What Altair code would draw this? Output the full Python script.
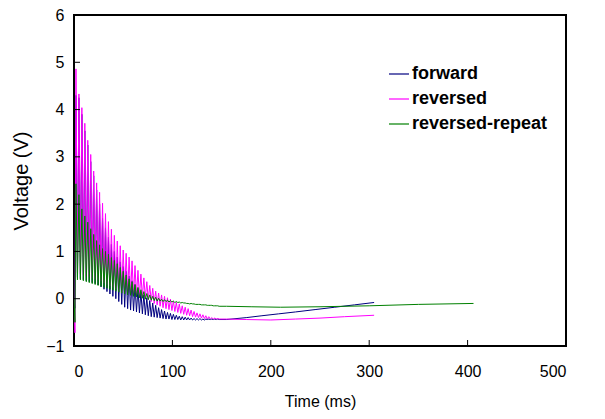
import altair as alt
import pandas as pd

# ---------------- data ----------------
SERIES = ["forward", "reversed", "reversed-repeat"]
COLORS = ["#000080", "#FF00FF", "#008000"]

# times (ms) of the oscillation peaks; troughs follow half a period later
SPIKE_T = [2, 5, 8, 11, 14, 17, 20, 23, 26, 29, 32, 35, 38, 41, 44, 47, 50, 53,
           56, 59, 62, 65, 68, 71, 74, 77, 80, 83, 86, 89, 92, 95, 98, 101, 104,
           107, 110, 113, 116, 119, 122, 125, 128, 131, 134, 137, 140, 143, 146]
HALF_PERIOD = 1.5

# forward
FWD_START_T = [0, 1]
FWD_START_V = [0.0, -0.2]
FWD_HI = [4.30, 4.25, 3.90, 3.55, 3.25, 2.90, 2.60, 2.30, 2.00, 1.70, 1.50, 1.30,
          1.15, 1.00, 0.88, 0.78, 0.68, 0.58, 0.48, 0.38, 0.30, 0.22, 0.15, 0.08,
          0.02, -0.04, -0.09, -0.14, -0.19, -0.23, -0.26, -0.29, -0.31, -0.33,
          -0.35, -0.37, -0.38, -0.39, -0.40, -0.41, -0.42, -0.42, -0.42, -0.43,
          -0.43, -0.43, -0.43, -0.43, -0.43]
FWD_LO = [0.45, 0.42, 0.40, 0.38, 0.36, 0.34, 0.32, 0.29, 0.25, 0.20, 0.15, 0.10,
          0.05, 0.00, -0.06, -0.12, -0.18, -0.21, -0.24, -0.26, -0.28, -0.30,
          -0.32, -0.34, -0.36, -0.38, -0.39, -0.40, -0.41, -0.42, -0.43, -0.43,
          -0.44, -0.44, -0.44, -0.45, -0.45, -0.45, -0.45, -0.45, -0.45, -0.45,
          -0.45, -0.45, -0.44, -0.44, -0.44, -0.44, -0.44]
FWD_TAIL_T = [155, 175, 191, 208, 225, 245, 265, 285, 305]
FWD_TAIL_V = [-0.44, -0.40, -0.36, -0.32, -0.28, -0.23, -0.18, -0.13, -0.08]

# reversed
REV_START_T = [0, 1]
REV_START_V = [0.0, -0.72]
REV_HI = [4.86, 4.33, 4.04, 3.71, 3.35, 3.05, 2.70, 2.45, 2.25, 2.02, 1.80, 1.63,
          1.47, 1.34, 1.22, 1.12, 1.03, 0.96, 0.88, 0.80, 0.70, 0.60, 0.52, 0.44,
          0.36, 0.28, 0.22, 0.16, 0.12, 0.08, 0.05, 0.02, -0.01, -0.05, -0.08,
          -0.11, -0.15, -0.18, -0.21, -0.24, -0.27, -0.30, -0.32, -0.34, -0.36,
          -0.38, -0.40, -0.41, -0.42]
REV_LO = [0.55, 0.52, 0.50, 0.48, 0.46, 0.44, 0.42, 0.40, 0.37, 0.33, 0.30, 0.27,
          0.24, 0.21, 0.17, 0.13, 0.11, 0.09, 0.07, 0.06, 0.05, 0.04, 0.03, 0.01,
          -0.02, -0.06, -0.10, -0.13, -0.16, -0.19, -0.21, -0.23, -0.25, -0.27,
          -0.29, -0.31, -0.33, -0.35, -0.36, -0.38, -0.39, -0.40, -0.41, -0.42,
          -0.43, -0.43, -0.43, -0.43, -0.43]
REV_TAIL_T = [155, 175, 200, 225, 250, 275, 305]
REV_TAIL_V = [-0.43, -0.44, -0.45, -0.43, -0.41, -0.38, -0.35]

# reversed-repeat
REP_START_T = [0, 1]
REP_START_V = [0.0, -0.5]
REP_HI = [2.43, 2.20, 1.90, 1.75, 1.62, 1.48, 1.36, 1.23, 1.14, 1.06, 1.00, 0.94,
          0.87, 0.81, 0.74, 0.66, 0.58, 0.50, 0.42, 0.36, 0.30, 0.24, 0.19, 0.15,
          0.11, 0.08, 0.05, 0.03, 0.01, -0.01, -0.02, -0.03, -0.04, -0.05, -0.06,
          -0.07, -0.08, -0.09, -0.10, -0.10, -0.11, -0.12, -0.12, -0.13, -0.13,
          -0.14, -0.14, -0.15, -0.15]
REP_LO = [0.40, 0.40, 0.38, 0.36, 0.34, 0.32, 0.30, 0.28, 0.26, 0.24, 0.22, 0.20,
          0.18, 0.16, 0.14, 0.12, 0.10, 0.08, 0.07, 0.05, 0.04, 0.02, 0.01, -0.01,
          -0.02, -0.03, -0.04, -0.05, -0.05, -0.06, -0.06, -0.07, -0.07, -0.08,
          -0.08, -0.09, -0.09, -0.10, -0.11, -0.11, -0.12, -0.12, -0.13, -0.13,
          -0.14, -0.14, -0.15, -0.15, -0.16]
REP_TAIL_T = [155, 180, 210, 250, 300, 350, 406]
REP_TAIL_V = [-0.16, -0.17, -0.18, -0.17, -0.15, -0.12, -0.10]

X_TICKS = [0, 100, 200, 300, 400, 500]
Y_TICKS = [-1, 0, 1, 2, 3, 4, 5, 6]

# ---------------- build the table ----------------
rows = []


def add(name, st, sv, hi, lo, tt, tv):
    for t, v in zip(st, sv):
        rows.append({"series": name, "t": t, "v": v})
    for t, h, l in zip(SPIKE_T, hi, lo):
        rows.append({"series": name, "t": t, "v": h})
        rows.append({"series": name, "t": t + HALF_PERIOD, "v": l})
    for t, v in zip(tt, tv):
        rows.append({"series": name, "t": t, "v": v})


add("forward", FWD_START_T, FWD_START_V, FWD_HI, FWD_LO, FWD_TAIL_T, FWD_TAIL_V)
add("reversed", REV_START_T, REV_START_V, REV_HI, REV_LO, REV_TAIL_T, REV_TAIL_V)
add("reversed-repeat", REP_START_T, REP_START_V, REP_HI, REP_LO, REP_TAIL_T, REP_TAIL_V)
df = pd.DataFrame(rows)
df["order"] = range(len(df))

W, H = 492, 331
FONT = "Liberation Sans"

xscale = alt.Scale(domain=[0, 500], nice=False)
yscale = alt.Scale(domain=[-1, 6], nice=False)

x_axis = alt.Axis(values=X_TICKS, title="Time (ms)", tickSize=0, domain=False,
                  grid=False, labelPadding=17, titlePadding=14,
                  labelFontSize=16, titleFontSize=16, labelFont=FONT,
                  titleFont=FONT, titleFontWeight="normal",
                  labelColor="black", titleColor="black")
y_axis = alt.Axis(values=Y_TICKS, title="Voltage (V)", tickSize=0, domain=False,
                  grid=False, labelPadding=10, titlePadding=14,
                  labelFontSize=16, titleFontSize=20, labelFont=FONT,
                  titleFont=FONT, titleFontWeight="normal",
                  labelColor="black", titleColor="black")

lines = alt.Chart(df).mark_line(strokeWidth=1, clip=True).encode(
    x=alt.X("t:Q", scale=xscale, axis=x_axis),
    y=alt.Y("v:Q", scale=yscale, axis=y_axis),
    color=alt.Color("series:N",
                    scale=alt.Scale(domain=SERIES, range=COLORS),
                    legend=alt.Legend(title=None, orient="none", legendX=314, legendY=48,
                                      symbolType="stroke", symbolSize=400,
                                      symbolStrokeWidth=1.2, labelFont=FONT,
                                      labelFontSize=18, labelFontWeight="bold",
                                      labelColor="black", labelOffset=2,
                                      rowPadding=5, padding=0)),
    order=alt.Order("order:Q"),
)

xt = alt.Chart(pd.DataFrame({"t": X_TICKS[1:-1]})).mark_rule(color="black", strokeWidth=1).encode(
    x=alt.X("t:Q", scale=xscale, axis=x_axis),
    y=alt.value(H), y2=alt.value(H - 6),
)
yt = alt.Chart(pd.DataFrame({"v": Y_TICKS[1:-1]})).mark_rule(color="black", strokeWidth=1).encode(
    y=alt.Y("v:Q", scale=yscale, axis=y_axis),
    x=alt.value(0), x2=alt.value(6),
)

chart = alt.layer(lines, xt, yt).properties(
    width=W, height=H,
    autosize=alt.AutoSizeParams(type="none"),
    padding={"left": 66, "top": 7, "right": 31, "bottom": 65},
    background="white",
).configure_view(stroke="black", strokeWidth=2)

chart.save("out.html", embed_options={"renderer": "svg", "actions": False})
